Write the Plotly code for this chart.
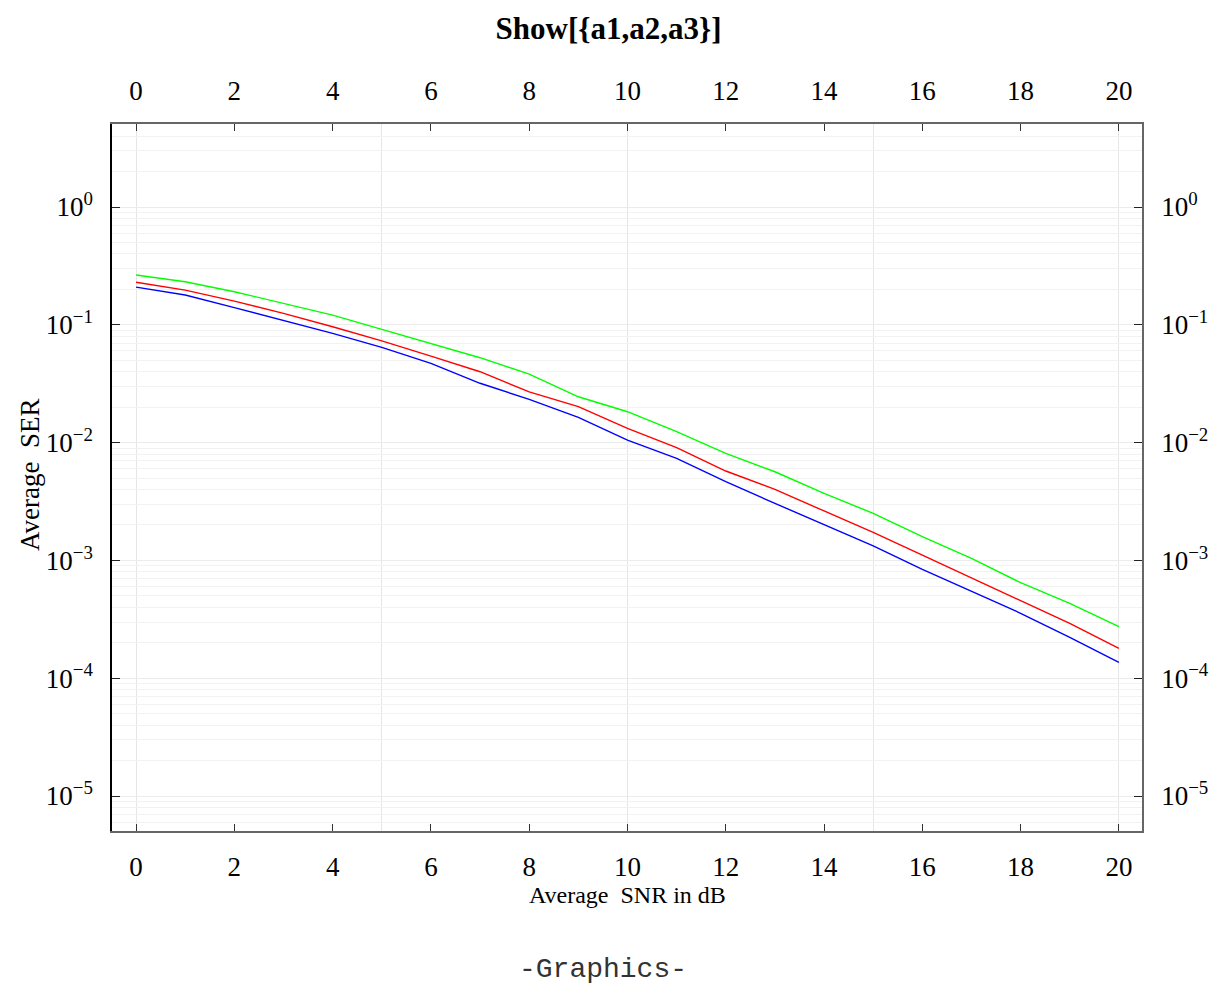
import plotly.graph_objects as go

snr_db = list(range(0, 21))
ser_green = [0.265, 0.232, 0.191, 0.152, 0.121, 0.0916, 0.0697, 0.0526, 0.0382, 0.0245,
             0.0183, 0.0124, 0.0081, 0.00566, 0.00371, 0.00251, 0.00159, 0.00104,
             0.000647, 0.000432, 0.000274]
ser_red = [0.23, 0.197, 0.159, 0.125, 0.0964, 0.073, 0.0543, 0.040, 0.027, 0.0202,
           0.0132, 0.00906, 0.00574, 0.00401, 0.00263, 0.00173, 0.00111, 0.000713,
           0.000461, 0.000292, 0.000179]
ser_blue = [0.209, 0.179, 0.14, 0.109, 0.0847, 0.0644, 0.0471, 0.0319, 0.0233, 0.0164,
            0.0105, 0.00735, 0.00466, 0.00305, 0.0020, 0.00133, 0.00084, 0.00055,
            0.000356, 0.000222, 0.000136]

x_ticks = list(range(0, 21, 2))
x_grid = [0, 5, 10, 15, 20]
y_ticks = [1e0, 1e-1, 1e-2, 1e-3, 1e-4, 1e-5]
y_ticktext = ["10<sup>0</sup>", "10<sup>\u22121</sup>", "10<sup>\u22122</sup>",
              "10<sup>\u22123</sup>", "10<sup>\u22124</sup>", "10<sup>\u22125</sup>"]
y_minor = [m * 10.0 ** k for k in range(-6, 1) for m in range(1, 10)]

X_RANGE = [-0.49, 20.47]
Y_RANGE = [-5.297, 0.705]
SERIF = "Liberation Serif"
GRID = "#ececec"

fig = go.Figure()
for ys, col in [(ser_green, "#00ff00"), (ser_red, "#ff0000"), (ser_blue, "#0000ff")]:
    fig.add_trace(go.Scatter(x=snr_db, y=ys, mode="lines",
                             line=dict(color=col, width=1.4), showlegend=False))
fig.add_trace(go.Scatter(x=[], y=[], xaxis="x2", yaxis="y2", showlegend=False))

tickfont = dict(family=SERIF, size=27, color="black")

fig.update_layout(
    width=1217, height=985,
    margin=dict(l=112, r=75, t=124, b=154, autoexpand=False),
    paper_bgcolor="white", plot_bgcolor="white",
    showlegend=False,
    title=dict(text="<b>Show[{a1,a2,a3}]</b>", x=0.5, xanchor="center",
               y=1 - 28 / 985, yanchor="middle",
               font=dict(family=SERIF, size=31, color="black")),
    xaxis=dict(range=X_RANGE, tickmode="array", tickvals=x_ticks,
               ticks="inside", ticklen=7, tickcolor="#333", tickwidth=1,
               showgrid=False, zeroline=False, automargin=False,
               showline=True, linecolor="#666", linewidth=1.5,
               tickfont=tickfont, ticklabelstandoff=11,
               minor=dict(tickmode="array", tickvals=x_grid, showgrid=True,
                          gridcolor="#e6e6e6", gridwidth=1.2, ticks="")),
    xaxis2=dict(range=X_RANGE, overlaying="x", side="top", anchor="y",
                tickmode="array", tickvals=x_ticks, automargin=False,
                ticks="inside", ticklen=7, tickcolor="#333", tickwidth=1,
                showgrid=False, zeroline=False,
                showline=True, linecolor="#666", linewidth=1.5,
                tickfont=tickfont, ticklabelstandoff=11),
    yaxis=dict(type="log", range=Y_RANGE, tickmode="array", tickvals=y_ticks,
               ticktext=y_ticktext, ticks="inside", ticklen=8, tickcolor="#222",
               tickwidth=1.2, showgrid=True, gridcolor=GRID, gridwidth=1,
               zeroline=False, showline=True, linecolor="black", linewidth=1.5,
               tickfont=tickfont, ticklabelstandoff=12, automargin=False,
               minor=dict(tickmode="array", tickvals=y_minor, showgrid=True,
                          gridcolor="#f2f2f2", gridwidth=1, ticks="")),
    yaxis2=dict(type="log", range=Y_RANGE, overlaying="y", side="right", anchor="x",
                tickmode="array", tickvals=y_ticks, ticktext=y_ticktext,
                ticks="inside", ticklen=8, tickcolor="#222", tickwidth=1.2,
                showgrid=False, zeroline=False, automargin=False,
                showline=True, linecolor="#666", linewidth=1.5,
                tickfont=tickfont, ticklabelstandoff=12),
    annotations=[
        dict(text="Average  SER", xref="paper", yref="paper",
             x=(30 - 112) / 1030, y=(831 - 475) / 707, textangle=-90,
             xanchor="center", yanchor="middle", showarrow=False,
             font=dict(family=SERIF, size=27, color="black")),
        dict(text="Average  SNR in dB", xref="paper", yref="paper",
             x=(627 - 112) / 1030, y=(831 - 895) / 707,
             xanchor="center", yanchor="middle", showarrow=False,
             font=dict(family=SERIF, size=24, color="black")),
        dict(text="-Graphics-", xref="paper", yref="paper",
             x=(603 - 112) / 1030, y=(831 - 969) / 707,
             xanchor="center", yanchor="middle", showarrow=False,
             font=dict(family="Liberation Mono", size=28, color="#333")),
    ],
)

fig.write_html("out.html")
